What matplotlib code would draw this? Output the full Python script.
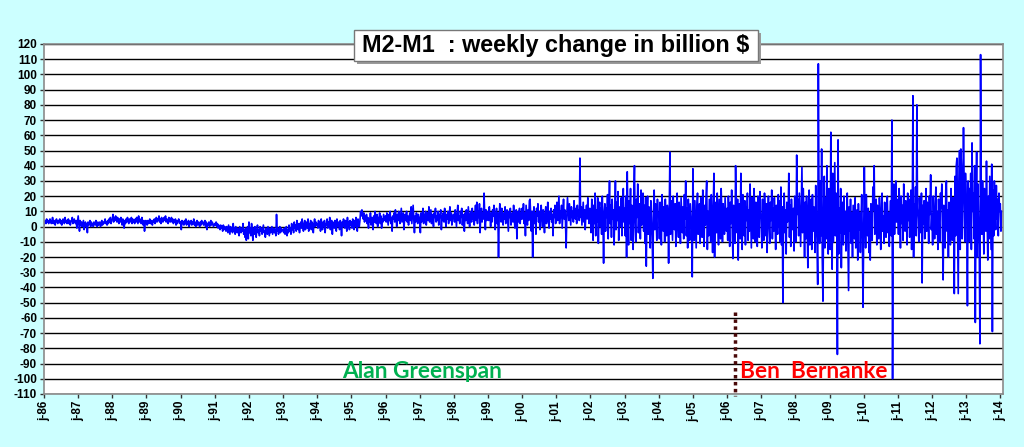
import numpy as np
import matplotlib
matplotlib.use("Agg")
import matplotlib.pyplot as plt
from matplotlib.patches import Rectangle

# weekly change of M2-M1 in billion $, one list per year
w86 = [1,3,4,2,5,3,4,2,3,5,4,2,3,6,2,4,3,1,4,5,3,2,4,3,5,2,4,1,3,5,3,2,6,3,4,2,3,5,2,4,1,3,4,6,2,3,5,3,2,4,-1,3]
w87 = [7,2,-3,4,1,3,0,2,4,-2,1,3,0,2,-4,3,1,2,4,0,3,1,2,0,3,2,1,4,2,0,3,1,2,3,0,2,4,1,3,2,3,5,2,3,1,4,2,5,3,6,2,4]
w88 = [5,8,3,6,4,7,5,3,6,4,2,5,3,6,4,1,5,3,-1,4,2,5,3,6,4,2,5,3,4,6,2,5,3,4,2,5,3,6,4,2,7,3,5,4,2,6,3,1,4,-3,2,4]
w89 = [3,1,4,2,3,5,2,4,3,1,4,3,5,2,4,6,3,5,4,7,3,5,2,6,4,3,5,6,4,7,3,5,4,2,6,5,3,4,6,3,5,2,4,3,5,1,4,2,3,5,4,2]
w90 = [3,-2,4,2,3,1,4,2,5,1,3,2,4,0,3,2,4,1,3,2,5,1,3,0,2,4,1,3,2,0,3,1,4,2,3,1,2,4,0,3,-2,2,1,3,0,2,4,1,3,2,0,1]
w91 = [2,1,3,0,2,-1,1,0,-2,1,-1,0,-3,1,-2,0,-1,-3,0,-2,-4,1,-2,-5,0,-3,-1,-4,2,-3,-1,-5,0,-2,-4,-1,-3,-6,0,-2,-4,-1,-3,2,-5,-2,-7,-1,-9,-3,0,-8]
w92 = [3,-4,-1,-6,2,-3,-9,-1,-5,0,-3,-7,-2,1,-4,-2,-6,0,-3,-1,-5,-2,1,-4,-3,-7,-1,-2,-5,0,-3,-6,-1,-4,-2,0,-5,-3,-1,-4,-2,-6,8,-3,-1,-5,-2,0,-4,-1,-3,-2]
w93 = [-2,-4,-1,-5,-3,0,-6,-2,-4,1,-3,-1,-5,2,-2,0,-4,3,-1,1,-3,4,0,-2,2,-4,1,3,-1,5,0,-3,2,4,-2,1,3,-1,5,-3,2,0,4,-2,3,1,-4,2,5,0,3,1]
w94 = [2,-1,4,0,3,-3,5,1,-2,3,0,4,-4,2,1,5,-1,3,0,6,-2,2,4,-5,3,1,-1,4,2,-3,5,0,3,1,-2,4,2,-6,3,0,5,1,-1,4,2,-3,6,0,3,-2,4,1]
w95 = [3,-1,5,2,-2,4,0,6,1,-3,5,2,0,4,10,7,11,8,5,9,3,7,4,8,2,6,-1,5,3,9,1,6,4,-2,7,3,10,5,2,8,0,6,4,9,2,7,-1,5,3,8,6,4]
w96 = [7,3,9,5,1,8,4,10,2,6,-3,7,5,9,3,11,6,0,8,4,10,5,2,7,12,3,6,9,-2,5,8,4,10,3,7,1,6,9,4,13,2,8,14,5,-4,7,3,9,6,2,8,5]
w97 = [6,-4,9,3,7,12,2,8,5,10,1,6,9,4,13,3,7,11,2,8,5,0,9,6,12,3,7,4,10,1,8,6,11,-2,7,4,9,3,12,6,0,8,5,10,2,7,13,4,9,1,6,8]
w98 = [8,3,11,5,0,9,14,4,7,2,10,6,12,1,8,5,-3,9,4,11,7,2,13,6,0,8,10,3,12,5,9,1,7,14,4,16,2,10,6,15,-4,8,12,3,9,5,22,7,-2,11,4,8]
w99 = [10,4,13,6,0,9,3,11,7,14,5,-2,8,12,2,9,-20,6,15,10,3,12,7,1,9,5,13,2,8,11,4,-3,10,6,12,1,7,9,3,14,5,-1,8,11,-8,6,10,3,12,2,9,5]
w00 = [12,5,15,2,9,-6,14,7,1,11,4,17,18,8,-3,10,-20,6,13,2,9,-5,12,7,15,3,10,-2,8,14,5,0,11,6,-4,9,13,2,7,16,4,-1,10,5,12,3,8,-6,11,6,14,2]
w01 = [8,16,4,12,20,2,10,6,14,-1,9,18,5,11,3,-14,7,19,12,4,15,8,1,13,6,10,3,17,9,5,12,2,14,7,11,4,45,6,13,1,9,16,3,11,-2,8,14,5,19,7,2,12]
w02 = [10,-4,18,6,-9,14,2,22,-6,11,3,19,-11,8,16,0,12,-5,20,4,-24,9,15,-3,12,6,21,-8,10,30,2,14,-7,18,5,11,-12,7,30,-2,16,4,23,-9,9,13,0,19,-6,11,25,3]
w03 = [12,-6,20,-20,36,5,-12,17,2,25,-9,14,7,-15,22,40,3,-10,18,6,28,-4,11,15,-8,24,1,9,22,-3,14,-11,19,-26,7,20,-5,13,2,-14,17,6,-7,-34,10,24,-2,15,5,-9,18,8]
w04 = [9,-8,16,4,-12,21,7,-3,13,-10,18,2,-6,14,8,-24,11,49,-5,17,3,-9,20,6,-2,15,-13,10,22,1,-7,16,4,-11,19,8,-4,13,-8,21,5,30,-6,12,-14,18,3,-9,15,7,-2,-33]
w05 = [38,6,-9,17,2,-14,12,22,-5,9,15,-11,19,3,-7,24,8,-13,14,1,20,30,-15,10,-6,18,4,-10,21,7,-17,13,35,-20,9,16,-4,22,2,-12,18,6,-8,25,11,-10,15,3,-5,19,8,-3]
w06 = [12,-9,20,5,-13,16,2,24,-6,-21,14,8,-11,40,10,-4,18,-22,6,15,-8,35,3,-15,21,9,-6,17,-12,13,4,22,-9,11,-3,28,7,-14,19,2,-8,25,12,-10,16,5,-13,20,1,-7,23,9]
w07 = [5,-14,18,2,-9,22,10,-6,15,-17,8,20,1,-11,16,4,24,-8,12,-3,19,6,-15,14,9,-5,21,0,17,-10,26,-12,13,-50,7,22,-4,11,-18,16,3,8,35,-7,14,-13,18,5,-2,12,-16,20]
w08 = [14,-10,47,8,18,-6,22,3,-13,12,39,-4,25,9,-20,16,-8,20,2,-27,11,24,-12,6,18,-15,21,-3,13,8,-17,27,4,-9,-38,107,15,-11,30,-6,51,-22,-49,10,33,-14,19,-8,40,5,-18,25]
w09 = [20,-15,62,8,-28,35,-10,15,42,-6,22,3,-84,57,-18,12,-4,25,-27,8,16,-12,20,-5,10,-16,7,22,-9,-42,13,-3,18,-11,9,-20,14,2,-8,19,-14,6,11,-22,15,-2,9,-17,4,21,-7,-53]
w10 = [-10,39,6,-14,21,3,-6,12,-17,9,-22,15,4,-9,26,11,40,-5,8,18,-12,14,2,-8,19,5,-15,10,22,-3,7,-11,16,1,-7,13,20,-4,9,-13,6,17,-6,70,-100,12,28,-5,15,30,3,18]
w11 = [12,-5,25,8,-14,20,2,14,-9,28,6,-3,17,10,-12,22,4,18,-7,11,24,-15,8,86,-20,15,3,26,-6,80,12,5,-10,19,9,-4,22,-37,14,2,17,-8,11,25,-3,16,6,-11,20,8,34,-2]
w12 = [8,-12,20,3,-8,15,26,-5,10,-15,18,2,-10,22,12,28,-7,-35,14,5,-14,24,30,-3,11,-20,16,7,-12,25,4,-9,19,12,-44,33,-6,40,45,-2,-44,28,50,-15,51,38,-8,22,65,30,-10,35]
w13 = [20,8,-52,30,-10,25,5,35,-15,55,10,22,-8,40,-63,15,49,-20,28,3,-12,-77,113,18,-5,30,8,-18,25,12,-3,43,6,-22,20,-8,33,10,-15,41,-69,24,-6,30,12,-2,27,5,18,-6,22,10]
w14 = [15,-3,10]

years = list(range(1986, 2015))
weekly = [w86, w87, w88, w89, w90, w91, w92, w93, w94, w95, w96, w97, w98, w99,
          w00, w01, w02, w03, w04, w05, w06, w07, w08, w09, w10, w11, w12, w13, w14]

tick_years = list(range(1986, 2015))
tick_labels = ["j-%02d" % (y % 100) for y in tick_years]

bernanke_start = 2006.23

x = []
vals = []
for yr, v in zip(years, weekly):
    step = 1.0 / len(v) if yr < 2014 else 1.0 / 52
    x.extend(yr + step * np.arange(len(v)))
    vals.extend(v)

fig = plt.figure(figsize=(10.24, 4.47), dpi=100, facecolor="#CCFFFF")
ax = fig.add_axes([0.043, 0.1186, 0.9365, 0.783])
ax.set_facecolor("white")

ax.plot(x, vals, color="#0000FF", lw=1.2)

ax.set_ylim(-110, 120)
ax.set_xlim(1986, 2014.08)
ax.set_yticks(range(-110, 121, 10))
ax.set_yticklabels([str(t) for t in range(-110, 121, 10)], fontsize=8.5,
                   fontweight="bold", family="Liberation Sans", color="black")
ax.set_xticks(tick_years)
ax.set_xticklabels(tick_labels, rotation=90, fontsize=8.5, fontweight="bold",
                   family="Liberation Sans", color="black")
ax.yaxis.grid(True, color="black", lw=1)
ax.set_axisbelow(True)
ax.tick_params(axis="both", length=3, width=1, color="#333333", pad=2)
for s in ax.spines.values():
    s.set_color("#8a8a8a")
    s.set_linewidth(1.2)

# Bernanke start marker
ax.plot([bernanke_start, bernanke_start], [-56, -111], color="#4a0a0a", lw=2.5,
        ls=(0, (1, 1)), clip_on=False)

ax.text(1994.74, -95, "Alan Greenspan", color="#00B050", fontsize=16.3,
        fontweight="bold", family="Lato", va="center", ha="left")
ax.text(2006.38, -95, "Ben  Bernanke", color="#FF0000", fontsize=16.3,
        fontweight="bold", family="Lato", va="center", ha="left")

# title box with shadow
W, H = 1024.0, 447.0
fig.patches.append(Rectangle((357 / W, 1 - 64 / H), 404 / W, 31 / H, transform=fig.transFigure,
                             facecolor="#9a9a9a", edgecolor="none", zorder=5))
fig.patches.append(Rectangle((354 / W, 1 - 61 / H), 404 / W, 31 / H, transform=fig.transFigure,
                             facecolor="white", edgecolor="#777777", lw=1, zorder=6))
fig.text(556 / W, 1 - 45.5 / H, "M2-M1  : weekly change in billion $", fontsize=16.8,
         fontweight="bold", family="Liberation Sans", ha="center", va="center", zorder=7)

fig.savefig("out.png", dpi=100, facecolor=fig.get_facecolor())
